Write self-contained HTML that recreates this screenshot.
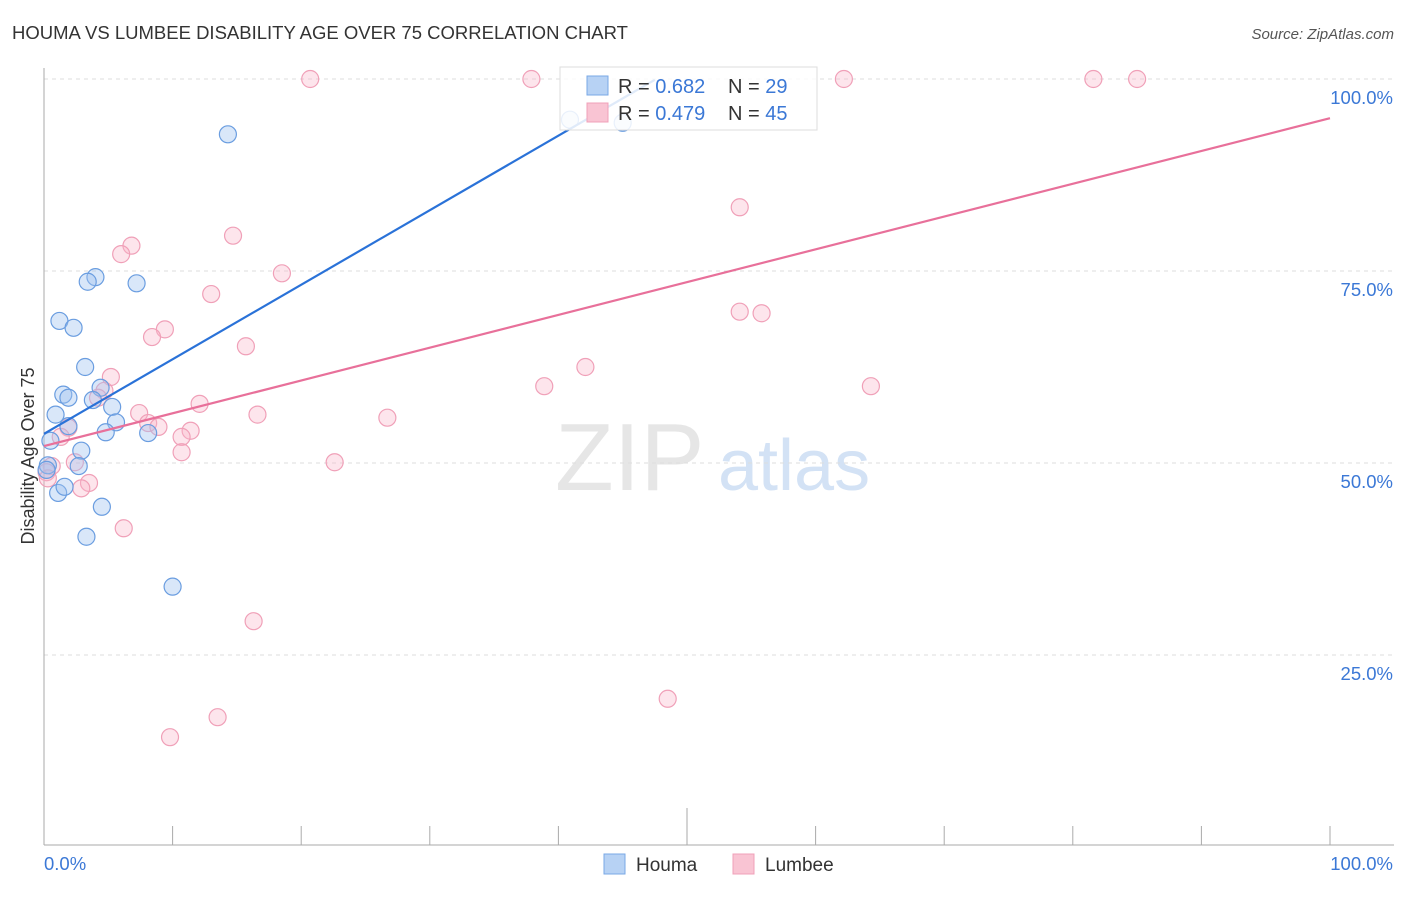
<!DOCTYPE html>
<html><head><meta charset="utf-8">
<style>
body{margin:0;background:#fff;font-family:"Liberation Sans",sans-serif;}
svg text{font-family:"Liberation Sans",sans-serif;}
</style></head>
<body>
<svg id="chart" width="1406" height="892" viewBox="0 0 1406 892" xmlns="http://www.w3.org/2000/svg">
<text x="12" y="39" font-size="18" fill="#333" textLength="616" lengthAdjust="spacingAndGlyphs">HOUMA VS LUMBEE DISABILITY AGE OVER 75 CORRELATION CHART</text>
<text x="1394" y="39" font-size="15" fill="#555" text-anchor="end" font-style="italic">Source: ZipAtlas.com</text>
<text x="555" y="490" font-size="96" fill="#e6e6e6" font-family="Liberation Serif">ZIP</text>
<text x="718" y="490" font-size="72" fill="#d3e2f5">atlas</text>
<g id="grid"></g>
<g id="axes"></g>
<g id="marks"></g>
<g id="trends"></g>
<text transform="translate(34,456) rotate(-90)" font-size="18" fill="#333" text-anchor="middle">Disability Age Over 75</text>
<g>
<rect x="560" y="67" width="257" height="63" fill="#fff" fill-opacity="0.85" stroke="#ddd"/>
<rect x="587" y="76" width="21" height="19" fill="#b7d2f4" stroke="#7aa8e6"/>
<rect x="587" y="103" width="21" height="19" fill="#f9c4d3" stroke="#f0a0b8"/>
<text x="618" y="93" font-size="20" fill="#333">R = <tspan fill="#3b78d6">0.682</tspan></text>
<text x="728" y="93" font-size="20" fill="#333">N = <tspan fill="#3b78d6">29</tspan></text>
<text x="618" y="120" font-size="20" fill="#333">R = <tspan fill="#3b78d6">0.479</tspan></text>
<text x="728" y="120" font-size="20" fill="#333">N = <tspan fill="#3b78d6">45</tspan></text>
</g>
<g>
<rect x="604" y="854" width="21" height="20" fill="#b7d2f4" stroke="#7aa8e6"/>
<text x="636" y="871" font-size="19" fill="#333">Houma</text>
<rect x="733" y="854" width="21" height="20" fill="#f9c4d3" stroke="#f0a0b8"/>
<text x="765" y="871" font-size="19" fill="#333">Lumbee</text>
</g>
</svg>
<script>
const houmaX=[14.3,40.9,45.0,4.0,3.4,7.2,1.2,2.3,3.2,1.5,1.9,4.4,3.8,5.3,0.9,5.6,1.9,4.8,8.1,0.5,2.9,0.3,2.7,1.1,1.6,4.5,3.3,10.0,0.2];
const houmaY=[92.8,94.7,94.3,74.2,73.6,73.4,68.5,67.6,62.5,58.9,58.5,59.8,58.2,57.3,56.3,55.3,54.8,54.0,53.9,52.9,51.6,49.7,49.6,46.1,46.9,44.3,40.4,33.9,49.1];
const lumbeeX=[20.7,37.9,62.2,81.6,85.0,54.1,14.7,6.8,6.0,18.5,13.0,54.1,55.8,9.4,8.4,15.7,42.1,5.2,38.9,64.3,4.7,4.2,12.1,7.4,16.6,26.7,8.1,8.9,1.9,11.4,10.7,1.3,10.7,22.6,0.6,2.4,0.2,3.5,2.9,6.2,16.3,48.5,13.5,9.8,0.3];
const lumbeeY=[100,100,100,100,100,83.3,79.6,78.3,77.2,74.7,72.0,69.7,69.5,67.4,66.4,65.2,62.5,61.2,60.0,60.0,59.4,58.5,57.7,56.5,56.3,55.9,55.2,54.7,54.6,54.2,53.4,53.4,51.4,50.1,49.6,50.1,48.8,47.4,46.7,41.5,29.4,19.3,16.9,14.3,48.0];
const houmaTrend=[[0,53.8],[47.5,99.9]];
const lumbeeTrend=[[0,52.2],[100,94.9]];
const yTicks=[100,75,50,25];
const yTickLabels=["100.0%","75.0%","50.0%","25.0%"];
const xTicks=[0,10,20,30,40,50,60,70,80,90,100];

const NS="http://www.w3.org/2000/svg";
const sx=v=>44+v*12.86;
const sy=v=>847-v*7.68;
function mk(tag,attrs,parent){const e=document.createElementNS(NS,tag);for(const k in attrs)e.setAttribute(k,attrs[k]);parent.appendChild(e);return e;}
const grid=document.getElementById('grid'),axes=document.getElementById('axes'),marks=document.getElementById('marks'),trends=document.getElementById('trends');
yTicks.forEach((t,i)=>{
  const l=mk('line',{x1:44,x2:1394,y1:sy(t),y2:sy(t),stroke:'#ddd','stroke-dasharray':'4,4'},grid);
  
  
  const tx=mk('text',{x:1393,y:sy(t)+25,'font-size':18.5,fill:'#3b78d6','text-anchor':'end'},axes);
  tx.textContent=yTickLabels[i];
  
  
});
const ax=mk('line',{x1:44,x2:1394,y1:845,y2:845,stroke:'#aaa'},axes);


const ay=mk('line',{x1:44,x2:44,y1:68,y2:845,stroke:'#aaa'},axes);


xTicks.forEach(t=>{
  const tk=mk('line',{x1:sx(t),x2:sx(t),y1:t===50?808:826,y2:845,stroke:'#aaa'},axes);
  
  
});
const x0=mk('text',{x:44,y:870,'font-size':18.5,fill:'#3b78d6'},axes);x0.textContent='0.0%';


const x1=mk('text',{x:1393,y:870,'font-size':18.5,fill:'#3b78d6','text-anchor':'end'},axes);x1.textContent='100.0%';


lumbeeX.forEach((v,i)=>{
  const c=mk('circle',{cx:sx(v),cy:sy(lumbeeY[i]),r:8.5,fill:'rgba(248,180,200,0.35)',stroke:'#f0a0b8','stroke-width':1.2},marks);
  
  
});
houmaX.forEach((v,i)=>{
  const c=mk('circle',{cx:sx(v),cy:sy(houmaY[i]),r:8.5,fill:'rgba(160,196,240,0.4)',stroke:'#6a9de0','stroke-width':1.2},marks);
  
  
});
const tb=mk('line',{x1:sx(houmaTrend[0][0]),y1:sy(houmaTrend[0][1]),x2:sx(houmaTrend[1][0]),y2:sy(houmaTrend[1][1]),stroke:'#2a72d8','stroke-width':2.2},trends);


const tp=mk('line',{x1:sx(lumbeeTrend[0][0]),y1:sy(lumbeeTrend[0][1]),x2:sx(lumbeeTrend[1][0]),y2:sy(lumbeeTrend[1][1]),stroke:'#e8709a','stroke-width':2.2},trends);


</script>
</body></html>
